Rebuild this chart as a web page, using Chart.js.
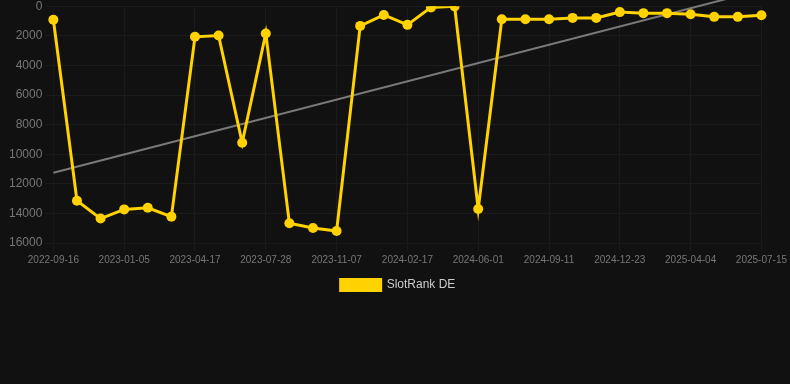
<!DOCTYPE html>
<html>
<head>
<meta charset="utf-8">
<script src="https://cdn.jsdelivr.net/npm/chart.js@4"></script>
<style>
  html, body { margin: 0; padding: 0; background: #111111; overflow: hidden; }
  #wrap { width: 790px; height: 305px; margin-top: -4px; }
</style>
</head>
<body>
<div id="wrap"><canvas id="rankChart"></canvas></div>
<script>
const dates = [
  '2022-09-16', '2022-10-23', '2022-11-29', '2023-01-05', '2023-02-08', '2023-03-14',
  '2023-04-17', '2023-05-21', '2023-06-24', '2023-07-28', '2023-08-31', '2023-10-04',
  '2023-11-07', '2023-12-11', '2024-01-14', '2024-02-17', '2024-03-22', '2024-04-26',
  '2024-06-01', '2024-07-05', '2024-08-08', '2024-09-11', '2024-10-15', '2024-11-18',
  '2024-12-23', '2025-01-26', '2025-03-01', '2025-04-04', '2025-05-08', '2025-06-11',
  '2025-07-15',
]
const ranks = [
  920, 13140, 14350, 13730, 13620, 14220,
  2070, 1980, 9230, 1840, 14670, 14990,
  15190, 1330, 590, 1260, 80, 10,
  13700, 880, 880, 880, 790, 790,
  400, 470, 470, 540, 720, 720,
  610,
]
const trendStart = 11250
const trendEnd = -1100
const yTicks = [0, 2000, 4000, 6000, 8000, 10000, 12000, 14000, 16000]

document.addEventListener('DOMContentLoaded', () => {
  const ctx = document.getElementById('rankChart').getContext('2d')

  new Chart(ctx, {
    type: 'line',
    data: {
      labels: dates,
      datasets: [
        {
          label: 'SlotRank DE',
          data: ranks,
          borderColor: '#ffd200',
          backgroundColor: '#ffd200',
          borderWidth: 3,
          pointRadius: 5,
          pointHoverRadius: 6,
          pointBackgroundColor: '#ffd200',
          pointBorderWidth: 0,
          tension: 0,
        },
        {
          label: 'trend',
          data: [
            { x: dates[0], y: trendStart },
            { x: dates[dates.length - 1], y: trendEnd },
          ],
          borderColor: 'rgba(140, 140, 140, 0.85)',
          borderWidth: 2,
          pointRadius: 0,
          clip: false,
        },
      ],
    },
    options: {
      responsive: true,
      maintainAspectRatio: false,
      animation: false,
      layout: { padding: { left: 6 } },
      scales: {
        x: {
          grid: { color: '#1b1b1b' },
          ticks: {
            color: '#777',
            font: { size: 10 },
            autoSkip: false,
            maxRotation: 0,
            callback: (v, i) => (i % 3 === 0 ? dates[i] : null),
          },
        },
        y: {
          reverse: true,
          min: 0,
          max: 16000,
          afterBuildTicks: (axis) => { axis.ticks = yTicks.map((v) => ({ value: v })) },
          grid: { color: '#1b1b1b' },
          ticks: { color: '#777', font: { size: 12 }, callback: (v) => String(v) },
        },
      },
      plugins: {
        legend: {
          position: 'bottom',
          labels: {
            color: '#ccc',
            font: { size: 12 },
            boxWidth: 40,
            boxHeight: 11,
            filter: (item) => item.text !== 'trend',
          },
        },
        tooltip: { enabled: false },
      },
    },
  })
})
</script>
</body>
</html>
